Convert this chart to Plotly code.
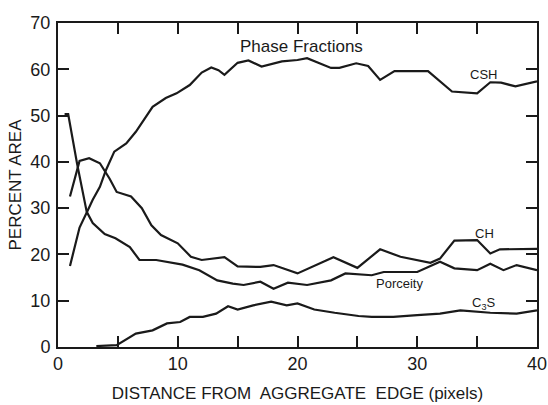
import plotly.graph_objects as go

# ---- data ----
csh_x = [1, 1.8, 2.5, 2.9, 3.5, 4.0, 4.7, 5.7, 6.5, 7.4, 7.9, 9.0, 9.9, 11.0, 12.0, 12.8, 13.4, 13.9,
         15.0, 15.9, 17.0, 18.7, 20.0, 20.8, 21.5, 22.8, 23.5, 24.9, 25.9, 26.9, 28.1, 30.9, 32.9,
         35.0, 36.1, 37.0, 38.2, 40.0]
csh_y = [17.5, 25.8, 29.6, 31.8, 34.6, 38.2, 42.2, 44.0, 46.5, 49.8, 51.9, 53.8, 54.8, 56.6, 59.3, 60.4,
         59.8, 58.8, 61.4, 61.9, 60.6, 61.7, 62.0, 62.4, 61.7, 60.3, 60.3, 61.3, 60.7, 57.7, 59.6, 59.6,
         55.2, 54.8, 57.2, 57.1, 56.3, 57.4]

ch_x = [1, 1.8, 2.6, 3.5, 4.3, 4.9, 6.1, 7.0, 7.8, 8.6, 10.0, 11.1, 12.0, 13.4, 13.9, 15.0, 16.9, 18.0,
        20.0, 23.0, 25.0, 26.9, 28.6, 31.1, 31.9, 33.1, 35.0, 36.1, 36.9, 40.0]
ch_y = [32.5, 40.2, 40.8, 39.7, 36.4, 33.5, 32.5, 30.0, 26.3, 24.2, 22.4, 19.5, 18.8, 19.2, 19.4, 17.4,
        17.3, 17.7, 15.9, 19.4, 17.1, 21.1, 19.5, 18.2, 19.1, 23.0, 23.1, 20.2, 21.1, 21.2]

por_x = [0.55, 0.85, 1.6, 2.4, 2.9, 3.9, 4.8, 6.0, 6.8, 8.2, 10.4, 11.8, 13.3, 14.6, 15.5, 16.9, 18.0,
         19.2, 20.8, 22.8, 24.0, 26.2, 27.2, 30.0, 31.9, 33.1, 35.0, 36.1, 37.2, 38.3, 40.0]
por_y = [50.3, 50.3, 39.5, 29.2, 26.8, 24.4, 23.5, 21.6, 18.8, 18.8, 17.8, 16.6, 14.4, 13.7, 13.4, 14.1,
         12.6, 13.9, 13.4, 14.4, 15.9, 15.5, 16.2, 16.2, 18.4, 17.0, 16.6, 18.0, 16.6, 17.7, 16.6]

c3s_x = [3.2, 4.9, 6.5, 7.9, 9.1, 10.2, 11.0, 12.1, 13.2, 14.2, 15.0, 16.3, 17.8, 19.1, 20.0, 21.4,
         23.1, 25.1, 26.2, 28.0, 30.0, 31.9, 33.6, 36.1, 38.3, 40.0]
c3s_y = [0.2, 0.4, 2.9, 3.6, 5.1, 5.4, 6.5, 6.5, 7.2, 8.8, 8.1, 9.0, 9.8, 9.0, 9.4, 8.1, 7.4, 6.7, 6.5,
         6.5, 6.9, 7.2, 7.9, 7.4, 7.2, 7.9]

labels = [
    ("Phase Fractions", 20.3, 64.9, 17),
    ("CSH", 35.5, 58.8, 13),
    ("CH", 35.6, 24.5, 13),
    ("Porceity", 28.5, 13.7, 13),
    ("C<sub>3</sub>S", 35.5, 9.4, 13),
]

FONT = "Liberation Sans, Arial, sans-serif"
INK = "#1a1a1a"

fig = go.Figure()
for name, xs, ys in [("CSH", csh_x, csh_y), ("CH", ch_x, ch_y),
                     ("Porosity", por_x, por_y), ("C3S", c3s_x, c3s_y)]:
    fig.add_trace(go.Scatter(x=xs, y=ys, mode="lines", name=name,
                             line=dict(color=INK, width=2.2), showlegend=False))

for text, x, y, size in labels:
    fig.add_annotation(x=x, y=y, text=text, showarrow=False,
                       font=dict(family=FONT, size=size, color=INK))

axis_common = dict(showgrid=False, zeroline=False, showline=True, linecolor=INK, linewidth=2,
                   mirror="ticks", ticks="inside", ticklen=11, tickwidth=1.5, tickcolor=INK,
                   automargin=False,
                   tickfont=dict(family=FONT, size=18, color=INK))

# main x axis: ticks every 5 (mirrored), no labels
fig.update_layout(
    xaxis=dict(range=[0, 40], tick0=0, dtick=5, showticklabels=False, **axis_common),
    # label-only axis: every 10, overlaying the main one
    xaxis2=dict(range=[0, 40], tick0=0, dtick=10, overlaying="x", side="bottom", anchor="y",
                showline=False, showgrid=False, zeroline=False, ticks="", automargin=False,
                tickfont=dict(family=FONT, size=18, color=INK), ticklabelstandoff=4,
                title=dict(text="DISTANCE FROM  AGGREGATE  EDGE (pixels)",
                           font=dict(family=FONT, size=17, color=INK), standoff=14)),
    yaxis=dict(range=[0, 70], tick0=0, dtick=10, ticklabelstandoff=2,
               title=dict(text="PERCENT AREA", font=dict(family=FONT, size=17, color=INK), standoff=4),
               **axis_common),
)
# invisible helper trace so the label axis is drawn
fig.add_trace(go.Scatter(x=[0, 40], y=[None, None], xaxis="x2", yaxis="y", mode="lines",
                         showlegend=False, hoverinfo="skip"))

fig.update_layout(width=548, height=405, margin=dict(l=58, r=11, t=23, b=58),
                  paper_bgcolor="white", plot_bgcolor="white")

fig.write_html("out.html", config={"displayModeBar": False},
               post_script="document.body.style.margin='0';document.body.style.overflow='hidden';")
